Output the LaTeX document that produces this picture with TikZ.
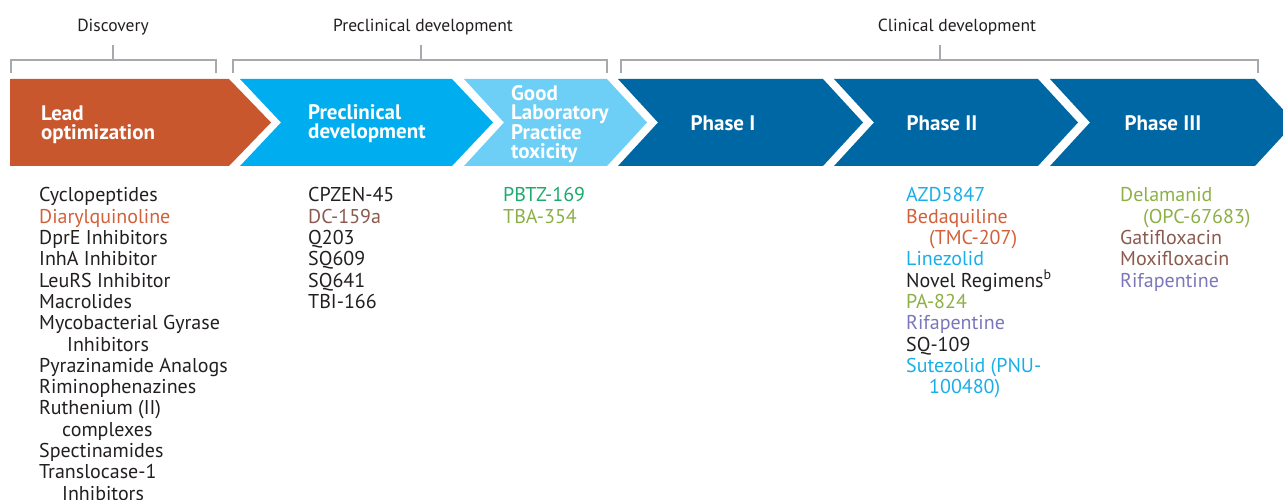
\documentclass[tikz,border=0pt]{standalone}
\usepackage{fontspec}
\setmainfont{PT Sans}
\definecolor{cOrange}{HTML}{C9572E}
\definecolor{cCyan}{HTML}{00AEEF}
\definecolor{cLight}{HTML}{6DCFF6}
\definecolor{cDark}{HTML}{0067A5}
\definecolor{tOrange}{HTML}{D2603A}
\definecolor{tBrown}{HTML}{8B5A4E}
\definecolor{tGreen}{HTML}{1DAA6E}
\definecolor{tOlive}{HTML}{8DB046}
\definecolor{tCyan}{HTML}{1AAEE8}
\definecolor{tPurple}{HTML}{7B76B9}
\definecolor{tBlack}{HTML}{231F20}
\definecolor{brk}{HTML}{A7A9AC}
\begin{document}
\begin{tikzpicture}[x=1pt,y=-1pt,
  brack/.style={draw=brk, line width=1.3pt},
  head/.style={font=\fontsize{17.5}{19}\selectfont, text=tBlack, inner sep=0pt},
  stage/.style={font=\bfseries\fontsize{21}{19}\selectfont, text=white, align=left, inner sep=0pt},
  list/.style={font=\fontsize{20}{21.3}\selectfont, text=tBlack, align=left, inner sep=0pt, anchor=north west}]
\useasboundingbox (0,0) rectangle (1283,500);
\clip (0,0) rectangle (1283,500);
% chevrons
\def\tp{79}\def\bt{166}\def\md{122.5}
\fill[cOrange] (10,\tp) -- (229,\tp) -- (271,\md) -- (229,\bt) -- (10,\bt) -- cycle;
\fill[cCyan] (240,\tp) -- (452,\tp) -- (493,\md) -- (452,\bt) -- (240,\bt) -- (281,\md) -- cycle;
\fill[cLight] (464,\tp) -- (607,\tp) -- (647,\md) -- (607,\bt) -- (464,\bt) -- (504,\md) -- cycle;
\fill[cDark] (618,\tp) -- (823,\tp) -- (863,\md) -- (823,\bt) -- (618,\bt) -- (658,\md) -- cycle;
\fill[cDark] (834,\tp) -- (1038,\tp) -- (1078,\md) -- (1038,\bt) -- (834,\bt) -- (874,\md) -- cycle;
\fill[cDark] (1050,\tp) -- (1255,\tp) -- (1295,\md) -- (1255,\bt) -- (1050,\bt) -- (1090,\md) -- cycle;
% brackets
\draw[brack] (11,73) -- (11,60) -- (216,60) -- (216,73);
\draw[brack] (113,60) -- (113,45);
\draw[brack] (233,73) -- (233,60) -- (607,60) -- (607,73);
\draw[brack] (421,60) -- (421,45);
\draw[brack] (621,73) -- (621,60) -- (1258,60) -- (1258,73);
\draw[brack] (940,60) -- (940,45);
\node[head] (hDisc) at (113,27) {Discovery};
\node[head] (hPre) at (423,27) {Preclinical development};
\node[head] (hClin) at (957,27) {Clinical development};
% stage labels
\node[stage, anchor=west] (sLead) at (41,124.5) {Lead\\optimization};
\node[stage, anchor=west] (sPre) at (308,124) {Preclinical\\development};
\node[stage, anchor=west] (sGlp) at (511,124) {Good\\Laboratory\\Practice\\toxicity};
\node[stage] (sP1) at (723,123) {Phase I};
\node[stage] (sP2) at (942,123) {Phase II};
\node[stage] (sP3) at (1163,123) {Phase III};
% lists
\node[list] (lDisc) at (39,187.5) {Cyclopeptides\\
\textcolor{tOrange}{Diarylquinoline}\\
DprE Inhibitors\\
InhA Inhibitor\\
LeuRS Inhibitor\\
Macrolides\\
Mycobacterial Gyrase\\
\hspace*{28pt}Inhibitors\\
Pyrazinamide Analogs\\
Riminophenazines\\
Ruthenium (II)\\
\hspace*{23pt}complexes\\
Spectinamides\\
Translocase-1\\
\hspace*{23pt}Inhibitors};
\node[list] (lPre) at (308,187.5) {CPZEN-45\\
\textcolor{tBrown}{DC-159a}\\
Q203\\
SQ609\\
SQ641\\
TBI-166};
\node[list] (lGlp) at (503,187.5) {\textcolor{tGreen}{PBTZ-169}\\
\textcolor{tOlive}{TBA-354}};
\node[list] (lP2) at (906,187.5) {\textcolor{tCyan}{AZD5847}\\
\textcolor{tOrange}{Bedaquiline}\\
\textcolor{tOrange}{\hspace*{23pt}(TMC-207)}\\
\textcolor{tCyan}{Linezolid}\\
Novel Regimens\textsuperscript{b}\\
\textcolor{tOlive}{PA-824}\\
\textcolor{tPurple}{Rifapentine}\\
SQ-109\\
\textcolor{tCyan}{Sutezolid (PNU-}\\
\textcolor{tCyan}{\hspace*{23pt}100480)}};
\node[list] (lP3) at (1120,187.5) {\textcolor{tOlive}{Delamanid}\\
\textcolor{tOlive}{\hspace*{23pt}(OPC-67683)}\\
\textcolor{tBrown}{Gatifloxacin}\\
\textcolor{tBrown}{Moxifloxacin}\\
\textcolor{tPurple}{Rifapentine}};
\end{tikzpicture}
\end{document}
